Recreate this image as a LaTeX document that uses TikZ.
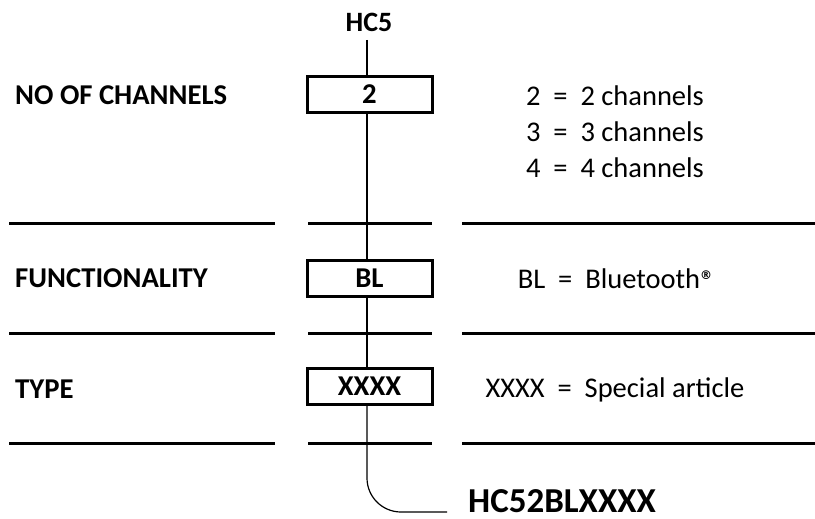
\documentclass[tikz,border=0pt]{standalone}
\usepackage{fontspec}
\setmainfont{Carlito}
\newfontfamily\symfont{DejaVu Sans}
\begin{document}
\begin{tikzpicture}[x=1pt,y=-1pt,
  lbl/.style={font=\bfseries\fontsize{28.7}{30}\selectfont, anchor=base west, inner sep=0pt},
  desc/.style={font=\fontsize{28.5}{30}\selectfont, anchor=base, inner sep=0pt},
  codebox/.style={draw, line width=3pt, fill=white, minimum width=125pt, minimum height=36pt, inner sep=0pt, text height=18pt, text depth=0pt, font=\bfseries\fontsize{28.7}{30}\selectfont},
  sepline/.style={line width=3pt},
  conn/.style={line width=1.2pt}]
\useasboundingbox (0,0) rectangle (815,519);
% header
\node[font=\bfseries\fontsize{28}{30}\selectfont, anchor=base, inner sep=0pt] (hc5) at (369,32) {HC5};
\coordinate (top) at (367,40);
% boxes
\node[codebox] (b2) at (369.5,95) {2};
\node[codebox] (bbl) at (369.5,278.5) {BL};
\node[codebox] (bx) at (369.5,386.5) {XXXX};
% labels
\node[lbl] (l1) at (15,105) {NO OF CHANNELS};
\node[lbl] (l2) at (15,287) {FUNCTIONALITY};
\node[lbl] (l3) at (15,398) {TYPE};
% descriptions
\node[desc] (d1) at (615,106) {2~~=~~2 channels};
\node[desc] (d2) at (615,142) {3~~=~~3 channels};
\node[desc] (d3) at (615,178) {4~~=~~4 channels};
\node[desc] (d4) at (615,288) {BL~~=~~Bluetooth\raisebox{9pt}{\symfont\bfseries\fontsize{12}{12}\selectfont ®}};
\node[desc] (d5) at (615,397) {XXXX~~=~~Special article};
% result
\node[font=\bfseries\fontsize{35}{36}\selectfont, anchor=base west, inner sep=0pt] (res) at (468,512.5) {HC52BLXXXX};
\coordinate (resend) at (447,512);
% separator lines
\foreach \y/\n in {223/a,333/b,443/c}{
  \coordinate (L\n1) at (9,\y); \coordinate (L\n2) at (275,\y);
  \coordinate (M\n1) at (308,\y); \coordinate (M\n2) at (432,\y);
  \coordinate (R\n1) at (462,\y); \coordinate (R\n2) at (815,\y);
  \draw[sepline] (L\n1) -- (L\n2);
  \draw[sepline] (M\n1) -- (M\n2);
  \draw[sepline] (R\n1) -- (R\n2);
}
% connector
\draw[conn] (top) -- (top |- b2.north);
\draw[conn] (top |- b2.south) -- (top |- bbl.north);
\draw[conn] (top |- bbl.south) -- (top |- bx.north);
\draw[conn, rounded corners=34pt] (top |- bx.south) -- (top |- resend) -- (resend);
\end{tikzpicture}
\end{document}
